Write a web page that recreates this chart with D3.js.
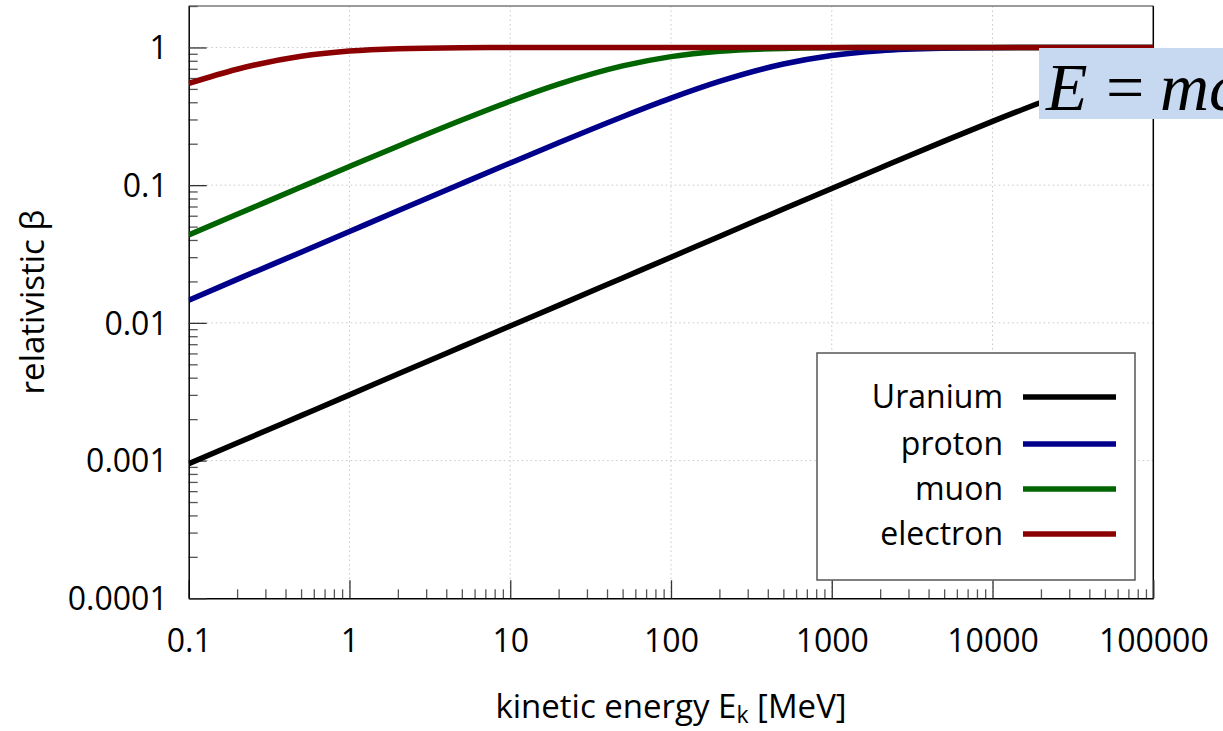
<!DOCTYPE html>
<html>
<head>
<meta charset="utf-8">
<script src="https://cdn.jsdelivr.net/npm/d3@7"></script>
<style>
  html, body { margin: 0; padding: 0; background: #fff; }
  svg { display: block; }
  text { font-family: "Open Sans", sans-serif; fill: #000; }
</style>
</head>
<body>
<svg id="chart" width="1223" height="731"></svg>
<script>
// Kinetic energy samples [MeV]
const energy = [0.1, 0.2, 0.5, 1, 2, 5, 10, 20, 50, 100, 200, 500, 1000, 2000, 5000, 10000, 20000, 50000, 100000];

// Relativistic beta for each particle at the energies above
const betaUranium  = [0.00095, 0.00134, 0.00212, 0.00300, 0.00425, 0.00672, 0.0095, 0.0134, 0.0212, 0.0300, 0.0424, 0.0671, 0.0947, 0.1334, 0.2089, 0.2906, 0.3983, 0.5774, 0.7246];
const betaProton   = [0.0146, 0.0207, 0.0326, 0.0461, 0.0652, 0.1028, 0.1448, 0.2032, 0.3141, 0.4282, 0.5662, 0.7579, 0.8750, 0.9477, 0.9874, 0.9963, 0.9990, 0.9998, 1.0];
const betaMuon     = [0.0435, 0.0614, 0.0969, 0.1366, 0.1919, 0.2972, 0.4067, 0.5413, 0.7343, 0.8579, 0.9384, 0.9847, 0.9954, 0.9987, 0.9998, 1.0, 1.0, 1.0, 1.0];
const betaElectron = [0.548, 0.695, 0.863, 0.941, 0.979, 0.9957, 0.9988, 0.9997, 0.9999, 1.0, 1.0, 1.0, 1.0, 1.0, 1.0, 1.0, 1.0, 1.0, 1.0];

const seriesNames  = ["Uranium", "proton", "muon", "electron"];
const seriesColors = ["#000000", "#00008b", "#006400", "#8b0000"];
const seriesValues = [betaUranium, betaProton, betaMuon, betaElectron];

// Axis ticks
const xTickValues = [0.1, 1, 10, 100, 1000, 10000, 100000];
const xTickLabels = ["0.1", "1", "10", "100", "1000", "10000", "100000"];
const yTickValues = [0.0001, 0.001, 0.01, 0.1, 1];
const yTickLabels = ["0.0001", "0.001", "0.01", "0.1", "1"];

const svg = d3.select("#chart");
const plot = { left: 188.7, right: 1153.3, top: 6, bottom: 598.3 };

const x = d3.scaleLog().domain([0.1, 100000]).range([plot.left, plot.right]);
const y = d3.scaleLog().domain([0.0001, 2]).range([plot.bottom, plot.top]);

const defs = svg.append("defs");
defs.append("clipPath").attr("id", "plotClip")
  .append("rect")
  .attr("x", plot.left).attr("y", plot.top)
  .attr("width", plot.right - plot.left).attr("height", plot.bottom - plot.top);
defs.append("clipPath").attr("id", "figClip")
  .append("rect").attr("x", 0).attr("y", 0).attr("width", 1208).attr("height", 731);

const fig = svg.append("g").attr("clip-path", "url(#figClip)");

// Minor tick positions (2..9 within each decade)
const xMinor = [];
for (let d = -1; d < 5; d++) for (let m = 2; m <= 9; m++) xMinor.push(m * Math.pow(10, d));
const yMinor = [];
for (let d = -4; d <= 0; d++) for (let m = 2; m <= 9; m++) {
  const v = m * Math.pow(10, d);
  if (v <= 2) yMinor.push(v);
}

// Dotted grid at the decades
const grid = fig.append("g");
grid.selectAll("line.gx").data(xTickValues.slice(1, -1)).join("line")
  .attr("x1", d => x(d)).attr("x2", d => x(d))
  .attr("y1", plot.top).attr("y2", plot.bottom)
  .attr("stroke", "#c8c8c8").attr("stroke-width", 1).attr("stroke-dasharray", "1.5,3");
grid.selectAll("line.gy").data(yTickValues.slice(1)).join("line")
  .attr("x1", plot.left).attr("x2", plot.right)
  .attr("y1", d => y(d)).attr("y2", d => y(d))
  .attr("stroke", "#c8c8c8").attr("stroke-width", 1).attr("stroke-dasharray", "1.5,3");

// Frame: top in grey, right in black
fig.append("line").attr("x1", plot.left).attr("x2", plot.right)
  .attr("y1", plot.top).attr("y2", plot.top)
  .attr("stroke", "#7a7a7a").attr("stroke-width", 1.5);
fig.append("line").attr("x1", plot.right).attr("x2", plot.right)
  .attr("y1", plot.top).attr("y2", plot.bottom)
  .attr("stroke", "#000").attr("stroke-width", 1.5);

// X axis
const gxMinor = fig.append("g").attr("transform", `translate(0,${plot.bottom})`)
  .call(d3.axisBottom(x).tickValues(xMinor).tickSize(-9).tickFormat(""));
gxMinor.select(".domain").remove();
gxMinor.selectAll(".tick line").attr("stroke", "#555").attr("stroke-width", 1.3);

const gx = fig.append("g").attr("transform", `translate(0,${plot.bottom})`)
  .call(d3.axisBottom(x).tickValues(xTickValues).tickSizeInner(-18).tickSizeOuter(0)
    .tickFormat((d, i) => xTickLabels[i]));
gx.select(".domain").attr("stroke", "#000").attr("stroke-width", 1.5);
gx.selectAll(".tick line").attr("stroke", "#333").attr("stroke-width", 1.3);
gx.selectAll(".tick text")
  .attr("y", 54).attr("dy", 0)
  .style("font-family", "'Open Sans', sans-serif").style("font-size", "32px").attr("fill", "#000");

// Y axis
const gyMinor = fig.append("g").attr("transform", `translate(${plot.left},0)`)
  .call(d3.axisLeft(y).tickValues(yMinor).tickSize(-9).tickFormat(""));
gyMinor.select(".domain").remove();
gyMinor.selectAll(".tick line").attr("stroke", "#555").attr("stroke-width", 1.3);

const gy = fig.append("g").attr("transform", `translate(${plot.left},0)`)
  .call(d3.axisLeft(y).tickValues(yTickValues).tickSizeInner(-18).tickSizeOuter(0)
    .tickFormat((d, i) => yTickLabels[i]));
gy.select(".domain").attr("stroke", "#000").attr("stroke-width", 1.5);
gy.selectAll(".tick text")
  .attr("x", -21).attr("dy", "0.35em")
  .style("font-family", "'Open Sans', sans-serif").style("font-size", "32px").attr("fill", "#000");
gy.selectAll(".tick line").attr("stroke", "#333").attr("stroke-width", 1.3);

// Axis titles
const xTitle = fig.append("text")
  .attr("x", (plot.left + plot.right) / 2).attr("y", 718)
  .attr("text-anchor", "middle").style("font-size", "33px");
xTitle.append("tspan").text("kinetic energy E");
xTitle.append("tspan").attr("dy", 5).style("font-size", "23px").text("k");
xTitle.append("tspan").attr("dy", -5).text(" [MeV]");

fig.append("text")
  .attr("transform", `translate(44,${(plot.top + plot.bottom) / 2}) rotate(-90)`)
  .attr("text-anchor", "middle").style("font-size", "33px")
  .text("relativistic β");

// Curves
const line = d3.line()
  .x((d, i) => x(energy[i]))
  .y(d => y(d))
  .curve(d3.curveMonotoneX);

const curves = fig.append("g").attr("clip-path", "url(#plotClip)");
seriesValues.forEach((vals, k) => {
  curves.append("path")
    .datum(vals)
    .attr("d", line)
    .attr("fill", "none")
    .attr("stroke", seriesColors[k])
    .attr("stroke-width", 5.5)
    .attr("stroke-linejoin", "round");
});

// Legend
const legend = fig.append("g");
legend.append("rect")
  .attr("x", 817).attr("y", 353).attr("width", 318).attr("height", 227)
  .attr("fill", "#fff").attr("stroke", "#555").attr("stroke-width", 1.5);
const legendRows = [397, 444, 489, 534];
seriesNames.forEach((name, k) => {
  legend.append("text")
    .attr("x", 1003).attr("y", legendRows[k]).attr("dy", "0.35em")
    .attr("text-anchor", "end").style("font-size", "32px")
    .text(name);
  legend.append("line")
    .attr("x1", 1023).attr("x2", 1116)
    .attr("y1", legendRows[k]).attr("y2", legendRows[k])
    .attr("stroke", seriesColors[k]).attr("stroke-width", 5.5);
});

// Equation callout
const eq = svg.append("g");
eq.append("rect")
  .attr("x", 1039).attr("y", 48).attr("width", 190).attr("height", 71)
  .attr("fill", "#c6d9f0");
const eqText = eq.append("text")
  .attr("x", 1046).attr("y", 110)
  .style("font-family", "'Liberation Serif', 'Times New Roman', serif")
  .style("font-size", "68px");
eqText.append("tspan").style("font-style", "italic").text("E");
eqText.append("tspan").attr("x", 1106).text("=");
eqText.append("tspan").attr("x", 1160).style("font-style", "italic").text("mc");
eqText.append("tspan").attr("dy", -30).style("font-size", "40px").text("2");
</script>
</body>
</html>
